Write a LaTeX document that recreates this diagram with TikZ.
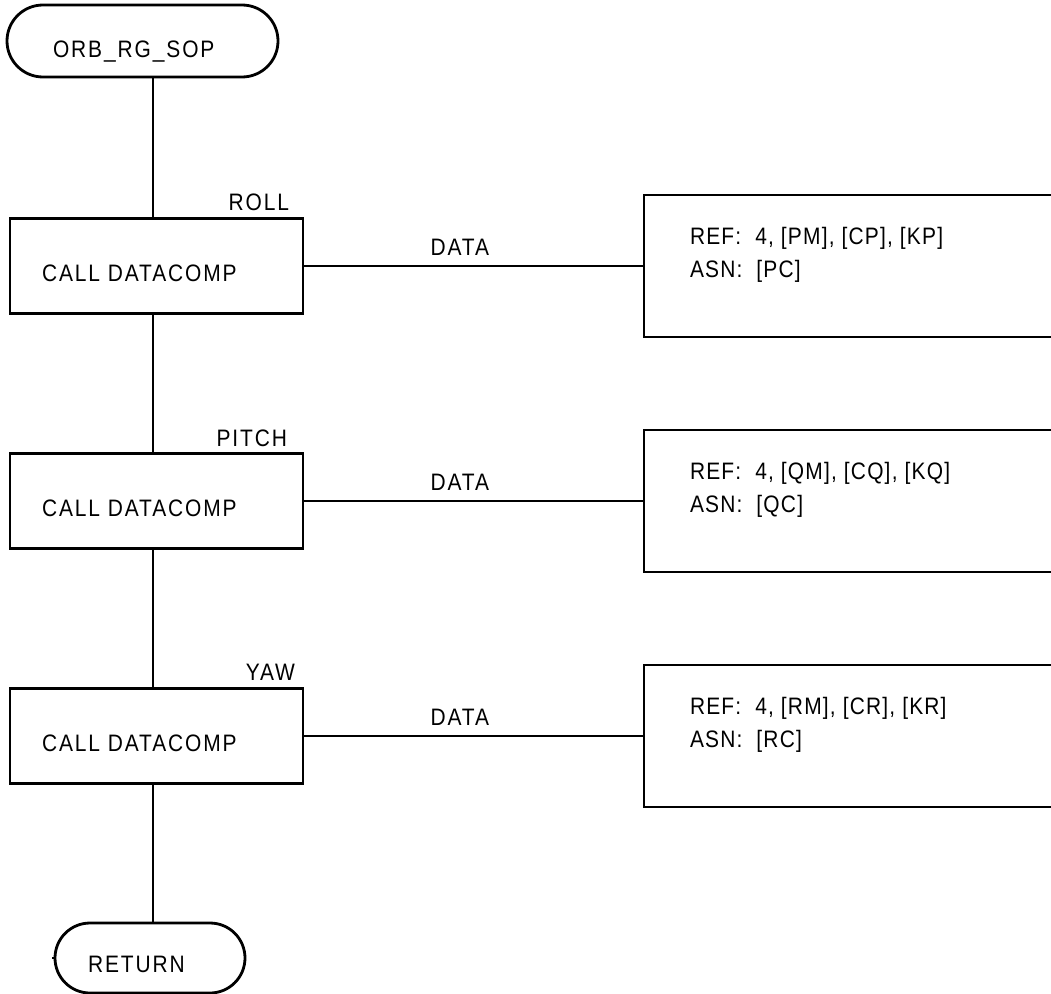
\documentclass[tikz,border=0pt]{standalone}
\usepackage{fontspec}
\setmainfont{Liberation Sans}[FakeStretch=0.88,LetterSpace=8]
\newfontfamily\reffont{Liberation Sans}[FakeStretch=0.88,LetterSpace=5]
\usetikzlibrary{shapes.misc}
\begin{document}
\begin{tikzpicture}[x=1pt,y=-1pt,
  every node/.style={font=\fontsize{23.8}{28}\selectfont},
  ln/.style={line width=2.8pt},
  term/.style={rounded rectangle, draw, ln, inner sep=0pt, outer sep=0pt},
  procbox/.style={rectangle, draw, ln, inner sep=0pt, outer sep=0pt, minimum width=293pt, minimum height=95pt},
  refbox/.style={rectangle, draw, ln, inner sep=0pt, outer sep=0pt, minimum width=476pt, minimum height=142pt},
  txt/.style={inner sep=0pt, outer sep=0pt, anchor=base west},
  reftxt/.style={txt, font=\reffont\fontsize{23.8}{28}\selectfont},
  lbl/.style={inner sep=0pt, outer sep=0pt, anchor=base east}
]
\useasboundingbox (0,0) rectangle (1051,993);
\clip (0,0) rectangle (1051,993);
\coordinate (spine) at (153,0);

% terminals
\node[term, minimum width=271pt, minimum height=72pt] (start) at (142.5,41) {};
\node[txt] (starttxt) at (53,57) {ORB\_RG\_SOP};
\node[term, minimum width=190pt, minimum height=70pt] (ret) at (150,958) {};
\node[txt] (rettxt) at (88,972) {RETURN};
\coordinate (tickA) at (52,958);
\coordinate (tickB) at (56,958);
\draw[line width=1.5pt] (tickA) -- (tickB);

% process boxes
\node[procbox] (b1) at (156.5,266) {};
\node[procbox] (b2) at (156.5,501) {};
\node[procbox] (b3) at (156.5,736) {};
\node[txt] (t1) at (42,281) {CALL DATACOMP};
\node[txt] (t2) at (42,516) {CALL DATACOMP};
\node[txt] (t3) at (42,751) {CALL DATACOMP};
\node[lbl] (l1) at (289,210) {ROLL};
\node[lbl] (l2) at (287,446) {PITCH};
\node[lbl] (l3) at (295,680) {YAW};

% reference boxes
\node[refbox] (r1) at (882,266) {};
\node[refbox] (r2) at (882,501) {};
\node[refbox] (r3) at (882,736) {};
\node[reftxt] (r1a) at (690,244) {REF:\ \ 4, [PM], [CP], [KP]};
\node[reftxt] (r1b) at (690,277) {ASN:\ \ [PC]};
\node[reftxt] (r2a) at (690,479) {REF:\ \ 4, [QM], [CQ], [KQ]};
\node[reftxt] (r2b) at (690,512) {ASN:\ \ [QC]};
\node[reftxt] (r3a) at (690,714) {REF:\ \ 4, [RM], [CR], [KR]};
\node[reftxt] (r3b) at (690,747) {ASN:\ \ [RC]};

% spine connectors
\draw[ln] (start.south -| spine) -- (b1.north -| spine);
\draw[ln] (b1.south -| spine) -- (b2.north -| spine);
\draw[ln] (b2.south -| spine) -- (b3.north -| spine);
\draw[ln] (b3.south -| spine) -- (ret.north -| spine);

% data connectors
\draw[ln] (b1.east) -- node[pos=0.46, above=9pt, inner sep=0pt] (d1) {DATA} (r1.west);
\draw[ln] (b2.east) -- node[pos=0.46, above=9pt, inner sep=0pt] (d2) {DATA} (r2.west);
\draw[ln] (b3.east) -- node[pos=0.46, above=9pt, inner sep=0pt] (d3) {DATA} (r3.west);
\end{tikzpicture}
\end{document}
